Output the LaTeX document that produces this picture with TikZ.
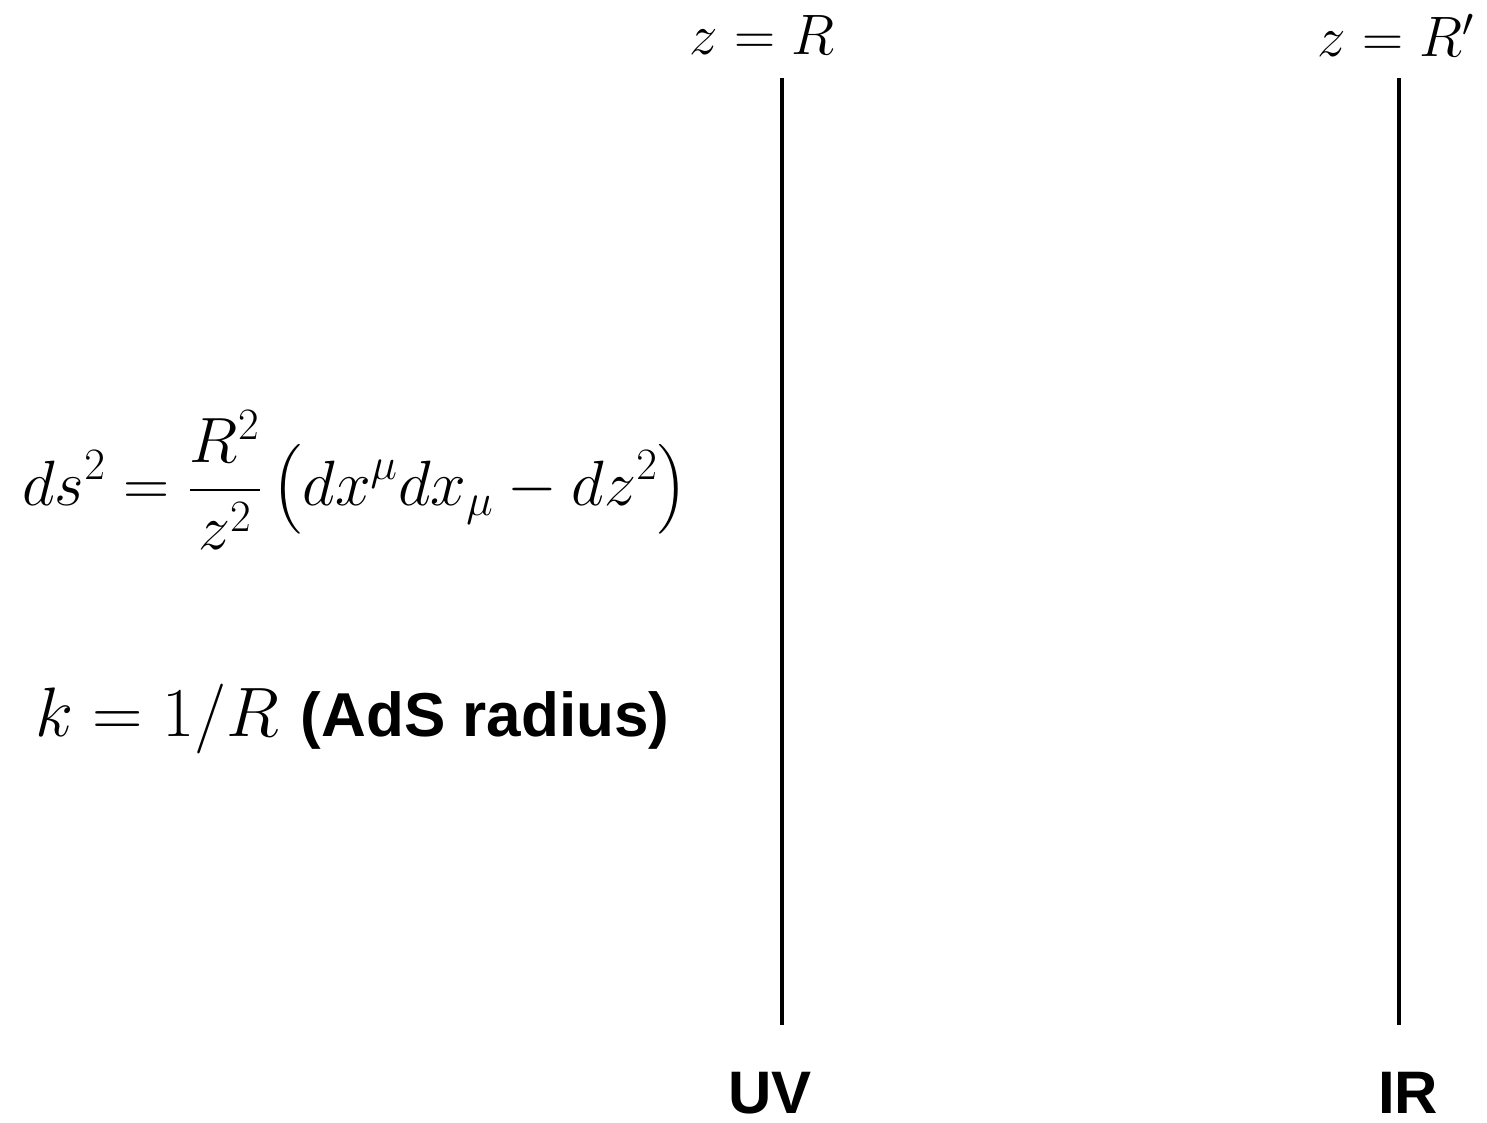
\RequirePackage{fix-cm}
\documentclass[tikz,border=0pt]{standalone}
\usepackage{amsmath}
\usepackage{fontspec}
\newfontfamily\hv{Liberation Sans}
\begin{document}
\begin{tikzpicture}[x=0.5pt,y=-0.5pt,
  brane/.style={line width=2pt},
  lbl/.style={inner sep=0pt},
  endlbl/.style={inner sep=0pt,font=\hv\bfseries\fontsize{30}{36}\selectfont}]
\path[use as bounding box] (0,0) rectangle (1487,1123);
\coordinate (uvt) at (782,78);
\coordinate (uvb) at (782,1025);
\coordinate (irt) at (1399,78);
\coordinate (irb) at (1399,1025);
\draw[brane] (uvt) -- (uvb);
\draw[brane] (irt) -- (irb);
\node[lbl,anchor=base] (zr) at (762,55) {\fontsize{28.5}{34}\selectfont $z=R$};
\node[lbl,anchor=base] (zrp) at (1396,57) {\fontsize{28.5}{34}\selectfont $z=R'$};
\node[endlbl,anchor=base] (uv) at (770,1113) {UV};
\node[endlbl,anchor=base] (ir) at (1408,1113) {IR};
\node[lbl] (metric) at (355,480) {\fontsize{32}{38}\selectfont $\displaystyle ds^2=\frac{R^2}{z^2}\left(dx^\mu dx_\mu-dz^2\right)$};
\node[lbl,anchor=base west] (kdef) at (35,736) {\fontsize{35}{42}\selectfont $k=1/R$ {\hv\bfseries\fontsize{31}{37}\selectfont (AdS radius)}};
\end{tikzpicture}
\end{document}
